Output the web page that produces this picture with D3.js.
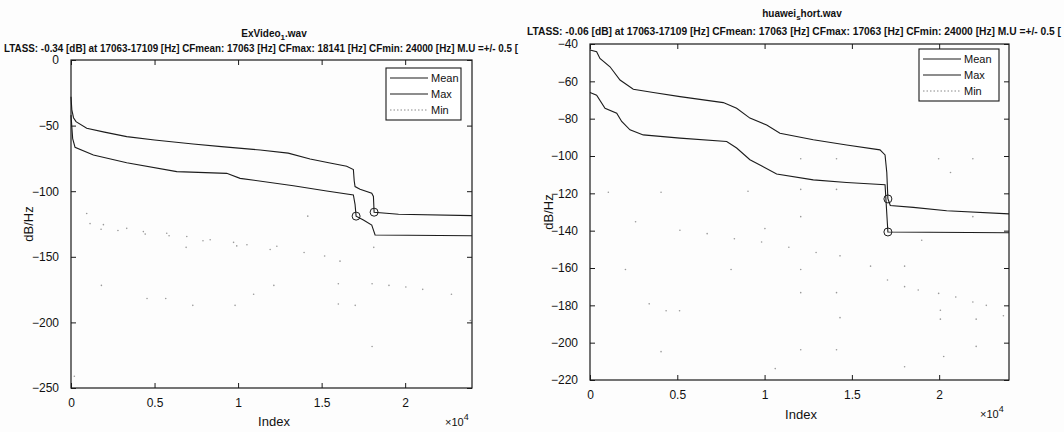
<!DOCTYPE html>
<html>
<head>
<meta charset="utf-8">
<script src="https://cdn.jsdelivr.net/npm/d3@7"></script>
<style>
  body { margin: 0; background: #fff; }
  svg { display: block; font-family: "Liberation Sans", Arial, sans-serif; }
  .tick_lbl { font-size: 12px; fill: #111; }
  .ttl { font-size: 10px; font-weight: bold; fill: #111; }
  .lbl { font-size: 13px; fill: #111; }
  .leg { font-size: 11px; fill: #111; }
</style>
</head>
<body>
<svg id="chart" width="1064" height="432"></svg>
<script>
"use strict";

// ---- data ----
var xTicks = [0, 5000, 10000, 15000, 20000];
var xTickLabels = ["0", "0.5", "1", "1.5", "2"];

// left panel: ExVideo_1.wav
var leftYTicks = [0, -50, -100, -150, -200, -250];
var leftMaxIdx = [0, 50, 150, 300, 940, 2000, 3335, 5000, 7305, 9000, 11320, 13000, 14310, 15500, 16500, 16900, 16950, 17000, 17300, 18000, 18100, 18141, 19600, 24000];
var leftMaxVal = [-28, -38, -44, -47, -52, -55, -58.4, -61, -64, -66, -68.6, -71, -75.5, -78.5, -81, -83.5, -92, -96.5, -98.5, -101.6, -104, -116, -117.6, -118.6];
var leftMeanIdx = [0, 100, 240, 1340, 3335, 6330, 9320, 10120, 13310, 15300, 16900, 17000, 17063, 17500, 18000, 18200, 24000];
var leftMeanVal = [-42, -60, -66.5, -72.4, -78.3, -85.1, -86.4, -90.2, -95.8, -99.8, -102.9, -110, -119, -122, -125.8, -133.4, -134];
var leftMinIdx = [940, 1140, 1800, 1940, 2810, 3335, 4330, 4440, 5730, 5870, 6890, 6930, 7900, 8330, 9730, 9920, 10530, 11920, 12320, 13950, 14170, 15180, 16100, 18120,
  1820, 12140, 16000, 18020, 19030, 20040, 21050, 10930, 9820, 22770, 18020, 200, 5670, 4550, 7290, 17010, 16000, 23900];
var leftMinVal = [-117, -124.7, -129, -125.5, -130, -128.3, -130.8, -132.7, -132, -133.9, -142.8, -134.5, -137.8, -137, -139, -141.7, -140.8, -144.4, -142, -146.7, -119, -149.4, -153.3, -142.8,
  -171.8, -171.8, -170.5, -170.5, -171.8, -173, -174.8, -178.5, -187, -178.5, -218.4, -241, -181.8, -181.8, -187, -187, -186, -198.6];
var leftMarkIdx = [17063, 18141];
var leftMarkVal = [-119, -116];

// right panel: huawei_short.wav
var rightYTicks = [-40, -60, -80, -100, -120, -140, -160, -180, -200, -220];
var rightMaxIdx = [0, 380, 570, 1145, 1720, 2480, 3625, 5155, 7635, 8400, 9160, 10120, 10880, 12790, 14700, 16610, 16900, 17000, 17063, 17200, 18520, 20430, 24000];
var rightMaxVal = [-43.2, -44.1, -47.7, -52.2, -59.3, -64.2, -66, -68.2, -71.4, -74.4, -79.7, -83.4, -87.8, -91.3, -94.1, -96.7, -99.4, -108.8, -122.8, -126.5, -127.5, -129.3, -131];
var rightMeanIdx = [0, 380, 860, 1530, 1815, 2290, 3050, 5155, 7830, 8400, 9160, 10690, 12790, 14700, 16900, 17063, 24000];
var rightMeanVal = [-66, -67.4, -74.4, -77.1, -81.5, -86, -88.7, -90.4, -92.2, -95.7, -102, -109.6, -112.8, -114.2, -115.4, -140.7, -141.1];
var rightMinIdx = [1050, 4070, 2610, 5150, 6710, 8270, 9830, 11390, 12950, 14320, 16070, 18020, 12070, 14120, 19970, 21930, 20650, 19000, 21930, 9050, 12070, 14120, 12070, 10020, 12070, 8080, 2030,
  18020, 18800, 19970, 20950, 21930, 22700, 23680, 17040, 12070, 14120, 20070, 20070, 14320, 22120, 4070, 12070, 14120, 22120, 20260, 10610, 18020, 3390, 4360, 5130];
var rightMinVal = [-119.4, -119.4, -135.2, -139.8, -141.6, -144.3, -146.1, -148.9, -151.7, -153.5, -159, -159, -101.5, -101.5, -101.5, -101.5, -108.8, -145.1, -132.5, -118.9, -117.9, -117.9, -132.5, -138.9, -160.8, -160.8, -160.8,
  -170, -171.8, -173.6, -175.5, -178.2, -180, -185.6, -166.4, -173.2, -173.2, -182.6, -187.4, -186.6, -187.4, -204.8, -203.8, -203.8, -202, -207.4, -213.9, -212.9, -179.2, -182.9, -182.9];
var rightMarkIdx = [17063, 17063];
var rightMarkVal = [-123, -140.7];

var legendNames = ["Mean", "Max", "Min"];

// ---- drawing ----
var svg = d3.select("#chart");
svg.append("rect").attr("width", 1064).attr("height", 432).attr("fill", "#fdfdfd");

function zip(xs, ys){
  return xs.map(function(x, i){ return {x: x, y: ys[i]}; });
}

function drawPanel(cfg){
  var x = d3.scaleLinear().domain([0, 24000]).range([cfg.left, cfg.right]);
  var y = d3.scaleLinear().domain(cfg.yDomain).range([cfg.top, cfg.bottom]);
  var g = svg.append("g");

  var line = d3.line()
    .x(function(d){ return x(d.x); })
    .y(function(d){ return y(d.y); });

  // min: scattered faint dots
  g.append("g")
    .selectAll("circle")
    .data(zip(cfg.minIdx, cfg.minVal))
    .enter()
    .append("circle")
    .attr("cx", function(d){ return x(d.x); })
    .attr("cy", function(d){ return y(d.y); })
    .attr("r", 0.8)
    .attr("fill", "#999");

  [zip(cfg.maxIdx, cfg.maxVal), zip(cfg.meanIdx, cfg.meanVal)].forEach(function(s){
    g.append("path")
      .attr("d", line(s))
      .attr("fill", "none")
      .attr("stroke", "#1c1c1c")
      .attr("stroke-width", 1.1);
  });

  g.append("g")
    .selectAll("circle")
    .data(zip(cfg.markIdx, cfg.markVal))
    .enter()
    .append("circle")
    .attr("cx", function(d){ return x(d.x); })
    .attr("cy", function(d){ return y(d.y); })
    .attr("r", 4)
    .attr("fill", "none")
    .attr("stroke", "#1c1c1c")
    .attr("stroke-width", 1);

  // axes box with inward ticks on all sides
  g.append("rect")
    .attr("x", cfg.left).attr("y", cfg.top)
    .attr("width", cfg.right - cfg.left).attr("height", cfg.bottom - cfg.top)
    .attr("fill", "none").attr("stroke", "#1a1a1a").attr("stroke-width", 1.2);

  var axB = g.append("g").attr("transform", "translate(0," + cfg.bottom + ")")
    .call(d3.axisBottom(x).tickValues(xTicks).tickSizeInner(-5).tickSizeOuter(0)
      .tickFormat(function(d, i){ return xTickLabels[i]; }).tickPadding(10));
  var axT = g.append("g").attr("transform", "translate(0," + cfg.top + ")")
    .call(d3.axisTop(x).tickValues(xTicks).tickSizeInner(-5).tickSizeOuter(0).tickFormat(""));
  var axL = g.append("g").attr("transform", "translate(" + cfg.left + ",0)")
    .call(d3.axisLeft(y).tickValues(cfg.yTicks).tickSizeInner(-5).tickSizeOuter(0).tickPadding(12));
  var axR = g.append("g").attr("transform", "translate(" + cfg.right + ",0)")
    .call(d3.axisRight(y).tickValues(cfg.yTicks).tickSizeInner(-5).tickSizeOuter(0).tickFormat(""));
  [axB, axT, axL, axR].forEach(function(a){
    a.select(".domain").remove();
    a.selectAll("line").attr("stroke", "#1a1a1a");
    a.selectAll("text").attr("class", "tick_lbl").attr("font-family", null).attr("font-size", null).attr("fill", null);
  });

  // titles
  var t = g.append("text").attr("class", "ttl")
    .attr("x", cfg.titleX).attr("y", cfg.titleY).attr("text-anchor", "middle");
  t.append("tspan").text(cfg.title[0]);
  t.append("tspan").attr("dy", 3).attr("font-size", "8px").text(cfg.title[1]);
  t.append("tspan").attr("dy", -3).text(cfg.title[2]);

  g.append("text").attr("class", "ttl")
    .attr("x", cfg.subX).attr("y", cfg.subY)
    .attr("textLength", cfg.subLen).attr("lengthAdjust", "spacingAndGlyphs")
    .text(cfg.sub);

  g.append("text").attr("class", "lbl")
    .attr("x", cfg.xlabX).attr("y", cfg.xlabY).attr("text-anchor", "middle")
    .text("Index");
  g.append("text").attr("class", "lbl")
    .attr("transform", "translate(" + cfg.ylabX + "," + cfg.ylabY + ") rotate(-90)")
    .attr("text-anchor", "middle")
    .text("dB/Hz");

  var e = g.append("text").attr("class", "leg")
    .attr("x", cfg.expX).attr("y", cfg.expY);
  e.append("tspan").text("\u00d710");
  e.append("tspan").attr("dy", -6).attr("font-size", "9px").text("4");

  // legend
  var lg = g.append("g");
  lg.append("rect")
    .attr("x", cfg.leg[0]).attr("y", cfg.leg[1])
    .attr("width", cfg.leg[2]).attr("height", cfg.leg[3])
    .attr("fill", "#fff").attr("stroke", "#1a1a1a").attr("stroke-width", 1.1);
  legendNames.forEach(function(name, i){
    var ly = cfg.leg[1] + 10 + i * 16;
    lg.append("line")
      .attr("x1", cfg.leg[0] + 4).attr("x2", cfg.leg[0] + 42)
      .attr("y1", ly).attr("y2", ly)
      .attr("stroke", i < 2 ? "#1c1c1c" : "#888")
      .attr("stroke-width", i < 2 ? 1.1 : 1)
      .attr("stroke-dasharray", i < 2 ? null : "1.5,2");
    lg.append("text").attr("class", "leg")
      .attr("x", cfg.leg[0] + 45).attr("y", ly + 4)
      .text(name);
  });
}

drawPanel({
  left: 71, right: 472, top: 60, bottom: 388,
  yDomain: [0, -250], yTicks: leftYTicks,
  maxIdx: leftMaxIdx, maxVal: leftMaxVal,
  meanIdx: leftMeanIdx, meanVal: leftMeanVal,
  minIdx: leftMinIdx, minVal: leftMinVal,
  markIdx: leftMarkIdx, markVal: leftMarkVal,
  title: ["ExVideo", "1", ".wav"], titleX: 274, titleY: 37,
  sub: "LTASS: -0.34 [dB] at 17063-17109 [Hz] CFmean: 17063 [Hz] CFmax: 18141 [Hz] CFmin: 24000 [Hz] M.U =+/- 0.5 [",
  subX: 4, subY: 52, subLen: 514,
  xlabX: 274, xlabY: 426, ylabX: 33, ylabY: 224,
  expX: 445, expY: 426,
  leg: [386, 68, 75, 52]
});

drawPanel({
  left: 590, right: 1009, top: 44, bottom: 380,
  yDomain: [-40, -220], yTicks: rightYTicks,
  maxIdx: rightMaxIdx, maxVal: rightMaxVal,
  meanIdx: rightMeanIdx, meanVal: rightMeanVal,
  minIdx: rightMinIdx, minVal: rightMinVal,
  markIdx: rightMarkIdx, markVal: rightMarkVal,
  title: ["huawei", "s", "hort.wav"], titleX: 802, titleY: 17,
  sub: "LTASS: -0.06 [dB] at 17063-17109 [Hz] CFmean: 17063 [Hz] CFmax: 17063 [Hz] CFmin: 24000 [Hz] M.U =+/- 0.5 [",
  subX: 527, subY: 35, subLen: 534,
  xlabX: 801, xlabY: 419, ylabX: 553, ylabY: 212,
  expX: 980, expY: 418,
  leg: [919, 49, 80, 52]
});
</script>
</body>
</html>
